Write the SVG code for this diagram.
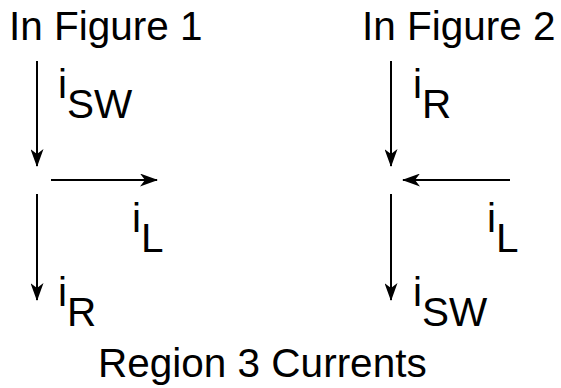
<svg xmlns="http://www.w3.org/2000/svg" width="561" height="388" viewBox="0 0 561 388">
<defs>
<marker id="ah" markerUnits="userSpaceOnUse" viewBox="0 0 18 13" markerWidth="18" markerHeight="13" refX="17" refY="6.5" orient="auto">
<path d="M0,0 L18,6.5 L0,13 L5,6.5 Z" fill="#000"/>
</marker>
</defs>
<style>
.t{font-family:"Liberation Sans",Arial,sans-serif;font-size:40.5px;fill:#000}
.c{stroke:#000;stroke-width:2;fill:none;marker-end:url(#ah)}
</style>
<rect width="561" height="388" fill="#fff"/>
<g id="titles">
<text class="t" x="9" y="40">In Figure 1</text>
<text class="t" x="362" y="40">In Figure 2</text>
<text class="t" x="98" y="377">Region 3 Currents</text>
</g>
<g id="connectors">
<line class="c" x1="37" y1="61" x2="37" y2="166"/>
<line class="c" x1="51" y1="180" x2="157" y2="180"/>
<line class="c" x1="37" y1="194" x2="37" y2="300"/>
<line class="c" x1="391" y1="61" x2="391" y2="166"/>
<line class="c" x1="510" y1="180" x2="403" y2="180"/>
<line class="c" x1="391" y1="194" x2="391" y2="300"/>
</g>
<g id="label-isw-1"><text class="t" x="58" y="98">i<tspan dy="20">SW</tspan></text></g>
<g id="label-il-1"><text class="t" x="132" y="232">i<tspan dy="20">L</tspan></text></g>
<g id="label-ir-1"><text class="t" x="58" y="306">i<tspan dy="20">R</tspan></text></g>
<g id="label-ir-2"><text class="t" x="413" y="98">i<tspan dy="20">R</tspan></text></g>
<g id="label-il-2"><text class="t" x="487" y="232">i<tspan dy="20">L</tspan></text></g>
<g id="label-isw-2"><text class="t" x="413" y="306">i<tspan dy="20">SW</tspan></text></g>
</svg>
